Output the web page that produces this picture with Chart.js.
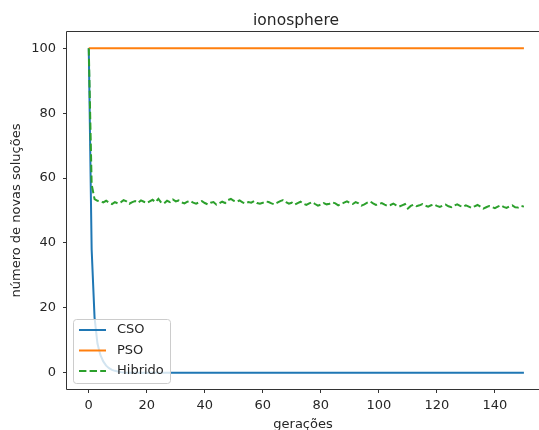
<!DOCTYPE html>
<html>
<head>
<meta charset="utf-8">
<script src="https://cdn.jsdelivr.net/npm/chart.js@4/dist/chart.umd.min.js"></script>
<style>
  html, body { margin: 0; padding: 0; background: #fff; overflow: hidden; }
</style>
</head>
<body>
<canvas id="ionoChart" width="539" height="430"></canvas>
<script>
const chartTitle = 'ionosphere';
const seriesNames = ['CSO', 'PSO', 'Hibrido'];
const seriesColors = ['#1f77b4', '#ff7f0e', '#2ca02c'];
const xTicks = [0, 20, 40, 60, 80, 100, 120, 140];
const yTicks = [0, 20, 40, 60, 80, 100];

// one value per generation, 0..150
const cso = [
    100, 38, 17, 9, 5.5, 3.5, 2.2, 1.4, 0.9, 0.6, 0.4, 0.2, 0.1, 0, 0,
    0, 0, 0, 0, 0, 0, 0, 0, 0, 0, 0, 0, 0, 0, 0, 0, 0, 0, 0, 0,
    0, 0, 0, 0, 0, 0, 0, 0, 0, 0, 0, 0, 0, 0, 0, 0, 0, 0, 0, 0,
    0, 0, 0, 0, 0, 0, 0, 0, 0, 0, 0, 0, 0, 0, 0, 0, 0, 0, 0, 0,
    0, 0, 0, 0, 0, 0, 0, 0, 0, 0, 0, 0, 0, 0, 0, 0, 0, 0, 0, 0,
    0, 0, 0, 0, 0, 0, 0, 0, 0, 0, 0, 0, 0, 0, 0, 0, 0, 0, 0, 0,
    0, 0, 0, 0, 0, 0, 0, 0, 0, 0, 0, 0, 0, 0, 0, 0, 0, 0, 0, 0,
    0, 0, 0, 0, 0, 0, 0, 0, 0, 0, 0, 0, 0, 0, 0, 0
];

const pso = [
    100, 100, 100, 100, 100, 100, 100, 100, 100, 100, 100, 100, 100, 100, 100, 100, 100, 100, 100, 100, 100, 100, 100, 100, 100,
    100, 100, 100, 100, 100, 100, 100, 100, 100, 100, 100, 100, 100, 100, 100, 100, 100, 100, 100, 100, 100, 100, 100, 100, 100,
    100, 100, 100, 100, 100, 100, 100, 100, 100, 100, 100, 100, 100, 100, 100, 100, 100, 100, 100, 100, 100, 100, 100, 100, 100,
    100, 100, 100, 100, 100, 100, 100, 100, 100, 100, 100, 100, 100, 100, 100, 100, 100, 100, 100, 100, 100, 100, 100, 100, 100,
    100, 100, 100, 100, 100, 100, 100, 100, 100, 100, 100, 100, 100, 100, 100, 100, 100, 100, 100, 100, 100, 100, 100, 100, 100,
    100, 100, 100, 100, 100, 100, 100, 100, 100, 100, 100, 100, 100, 100, 100, 100, 100, 100, 100, 100, 100, 100, 100, 100, 100,
    100
];

const hibrido = [
    100, 58, 53.5, 53, 52.8, 52.5, 53, 52.4, 52, 52.6,
    52.2, 52.5, 53.2, 52.8, 52.1, 52.6, 52.9, 52.4, 53.1, 52.7,
    52.3, 52.8, 53.3, 52.6, 53.6, 52.4, 52.2, 53, 52.6, 53.4,
    52.8, 53.1, 52.5, 52.2, 52.7, 53, 52.4, 52.1, 52.5, 52.9,
    52.3, 51.9, 52.4, 52.6, 51.8, 52.2, 52.7, 52.3, 53.2, 53.6,
    53, 52.7, 53.1, 52.5, 52.2, 52.6, 52.4, 52.9, 52.3, 52.1,
    52.4, 52.8, 52.6, 52.2, 51.9, 52.4, 52.9, 53.2, 52.6, 52.1,
    52.4, 51.8, 52.3, 52.7, 52.1, 51.7, 52.2, 52.6, 52, 51.5,
    51.8, 52.3, 51.9, 52.1, 52.5, 52.2, 51.6, 52, 52.4, 52.8,
    52.3, 52, 52.6, 52.2, 51.5, 51.9, 52.4, 52.8, 52.2, 51.7,
    52, 52.3, 51.8, 51.4, 51.7, 52.1, 51.6, 51.2, 51.6, 52,
    50.6, 51.4, 51.8, 51.3, 51.6, 52, 51.5, 51.2, 51.6, 51.9,
    51.4, 51.1, 51.5, 51.8, 51.3, 51, 51.5, 51.9, 51.4, 51.1,
    51.6, 51.2, 50.8, 51.3, 51.7, 51.2, 50.6, 51, 51.4, 51.1,
    50.7, 51.2, 51.6, 51.1, 50.8, 51.3, 51.6, 51, 50.9, 51.4,
    51.2
];

const toPoints = arr => arr.map((v, i) => ({ x: i, y: v }));
const textColor = '#262626';
const axisColor = '#333';

Chart.defaults.font.family = "'DejaVu Sans', sans-serif";
Chart.defaults.font.size = 13;
Chart.defaults.color = textColor;

// title centred over the (partly cropped) axes
const titlePlugin = {
    id: 'titlePlugin',
    afterDraw(chart) {
        const c = chart.ctx;
        c.save();
        c.font = "15.5px 'DejaVu Sans', sans-serif";
        c.fillStyle = textColor;
        c.textAlign = 'center';
        c.textBaseline = 'alphabetic';
        c.fillText(chartTitle, 296, 25);
        c.restore();
    }
};

// axes frame: top, left, bottom (right spine is cut off in the picture)
const framePlugin = {
    id: 'framePlugin',
    afterDatasetsDraw(chart) {
        const { left, right, top, bottom } = chart.chartArea;
        const c = chart.ctx;
        c.save();
        c.strokeStyle = axisColor;
        c.lineWidth = 1;
        c.beginPath();
        c.moveTo(right, top - 0.5);
        c.lineTo(left - 0.5, top - 0.5);
        c.lineTo(left - 0.5, bottom + 0.5);
        c.lineTo(right, bottom + 0.5);
        c.stroke();
        c.restore();
    }
};

// matplotlib-like legend in the lower left corner of the axes
const legendPlugin = {
    id: 'legendPlugin',
    afterDatasetsDraw(chart) {
        const c = chart.ctx;
        const area = chart.chartArea;
        const bx = area.left + 6, bw = 97, bh = 64;
        const by = area.bottom - 6 - bh;
        c.save();
        c.beginPath();
        c.roundRect(bx + 0.5, by + 0.5, bw, bh, 3);
        c.fillStyle = 'rgba(255,255,255,0.8)';
        c.fill();
        c.strokeStyle = '#cccccc';
        c.lineWidth = 1;
        c.stroke();
        c.font = "13px 'DejaVu Sans', sans-serif";
        c.textBaseline = 'middle';
        c.textAlign = 'left';
        chart.data.datasets.forEach((ds, i) => {
            const y = by + 11 + i * 20.5;
            c.beginPath();
            c.strokeStyle = ds.borderColor;
            c.lineWidth = ds.borderWidth;
            c.setLineDash(ds.borderDash || []);
            c.moveTo(bx + 6, y);
            c.lineTo(bx + 33, y);
            c.stroke();
            c.setLineDash([]);
            c.fillStyle = textColor;
            c.fillText(ds.label, bx + 44, y);
        });
        c.restore();
    }
};

const ctx = document.getElementById('ionoChart').getContext('2d');
new Chart(ctx, {
    type: 'line',
    data: {
        datasets: [
            { label: seriesNames[0], data: toPoints(cso), borderColor: seriesColors[0], borderWidth: 2, order: 2 },
            { label: seriesNames[1], data: toPoints(pso), borderColor: seriesColors[1], borderWidth: 2, order: 1 },
            { label: seriesNames[2], data: toPoints(hibrido), borderColor: seriesColors[2], borderWidth: 2,
              borderDash: [7.4, 3.2], order: 0 }
        ]
    },
    options: {
        responsive: false,
        animation: false,
        layout: { padding: { top: 32, left: 0, right: 0, bottom: 0 } },
        elements: { point: { radius: 0 }, line: { tension: 0, borderCapStyle: 'butt' } },
        plugins: { legend: { display: false }, tooltip: { enabled: false } },
        scales: {
            x: {
                type: 'linear',
                min: -7.5,
                max: 155.2,
                afterBuildTicks: s => { s.ticks = xTicks.map(v => ({ value: v })); },
                afterFit: s => { s.height = 41; },
                ticks: { padding: 5, color: textColor },
                grid: { drawOnChartArea: false, tickLength: 4, tickColor: axisColor },
                border: { display: false },
                title: { display: true, text: 'gerações', color: textColor, padding: { top: 0, bottom: -2 } }
            },
            y: {
                type: 'linear',
                min: -5,
                max: 105,
                afterBuildTicks: s => { s.ticks = yTicks.map(v => ({ value: v })); },
                afterFit: s => { s.width = 67; },
                ticks: { padding: 7, color: textColor },
                grid: { drawOnChartArea: false, tickLength: 4, tickColor: axisColor },
                border: { display: false },
                title: { display: true, text: 'número de novas soluções', color: textColor, padding: { top: 9, bottom: 0 } }
            }
        }
    },
    plugins: [titlePlugin, framePlugin, legendPlugin]
});
</script>
</body>
</html>
